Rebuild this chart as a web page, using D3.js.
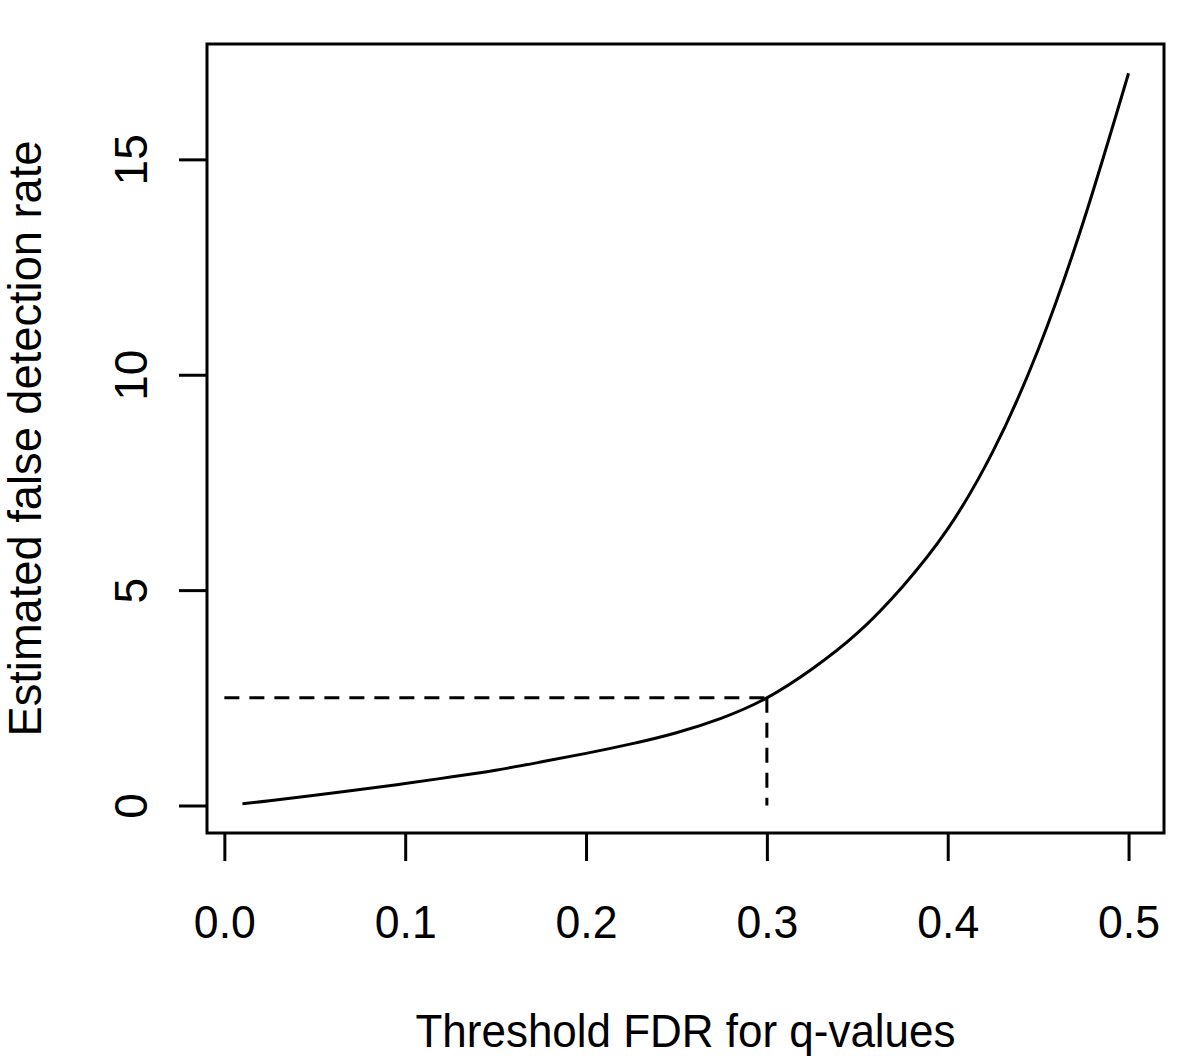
<!DOCTYPE html>
<html>
<head>
<meta charset="utf-8">
<script src="https://cdn.jsdelivr.net/npm/d3@7"></script>
<style>
  html, body { margin: 0; padding: 0; background: #fff; }
  text { font-family: "Liberation Sans", Arial, sans-serif; fill: #000; }
</style>
</head>
<body>
<div id="chart"></div>
<script>
// values
var thresholds = [0.01, 0.025, 0.05, 0.075, 0.10, 0.125, 0.15, 0.175, 0.20, 0.225, 0.25, 0.275,
                  0.30, 0.325, 0.35, 0.375, 0.40, 0.425, 0.45, 0.475, 0.50];
var estFDR     = [0.04, 0.11, 0.24, 0.37, 0.51, 0.66, 0.82, 1.01, 1.21, 1.43, 1.69, 2.03,
                  2.50, 3.17, 4.00, 5.08, 6.42, 8.22, 10.58, 13.55, 17.0];
var xTicks = [0.0, 0.1, 0.2, 0.3, 0.4, 0.5];
var yTicks = [0, 5, 10, 15];
var cutX = 0.3;
var cutY = 2.5;

var width = 1200;
var height = 1056;
var box = {left: 207, right: 1164, top: 44, bottom: 833};

var svg = d3.select('#chart').append('svg')
    .attr('width', width)
    .attr('height', height);

// R-style 4% padding around data range
var xr = d3.extent(thresholds), yr = d3.extent(estFDR);
var xpad = (xr[1] - xr[0]) * 0.04, ypad = (yr[1] - yr[0]) * 0.04;

var x = d3.scaleLinear()
    .domain([xr[0] - xpad, xr[1] + xpad])
    .range([box.left, box.right]);

var y = d3.scaleLinear()
    .domain([yr[0] - ypad, yr[1] + ypad])
    .range([box.bottom, box.top]);

var pts = thresholds.map(function(d, i) { return [d, estFDR[i]]; });

var line = d3.line()
    .x(function(d) { return x(d[0]); })
    .y(function(d) { return y(d[1]); })
    .curve(d3.curveNatural);

svg.append('path')
    .datum(pts)
    .attr('d', line)
    .attr('fill', 'none')
    .attr('stroke', '#000')
    .attr('stroke-width', 3);

// dashed cut-off guides
svg.append('line')
    .attr('x1', x(0)).attr('x2', x(cutX))
    .attr('y1', y(cutY)).attr('y2', y(cutY))
    .attr('stroke', '#000').attr('stroke-width', 3)
    .attr('stroke-dasharray', '15,10');

svg.append('line')
    .attr('x1', x(cutX)).attr('x2', x(cutX))
    .attr('y1', y(cutY)).attr('y2', y(0))
    .attr('stroke', '#000').attr('stroke-width', 3)
    .attr('stroke-dasharray', '15,10');

// box
svg.append('rect')
    .attr('x', box.left).attr('y', box.top)
    .attr('width', box.right - box.left)
    .attr('height', box.bottom - box.top)
    .attr('fill', 'none')
    .attr('stroke', '#000')
    .attr('stroke-width', 3);

// x axis
var xAxis = d3.axisBottom(x)
    .tickValues(xTicks)
    .tickSize(28)
    .tickSizeOuter(0)
    .tickFormat(d3.format('.1f'));

var gx = svg.append('g')
    .attr('transform', 'translate(0,' + box.bottom + ')')
    .call(xAxis);
gx.select('.domain').remove();
gx.selectAll('.tick line').attr('stroke', '#000').attr('stroke-width', 3);
gx.selectAll('.tick text')
    .attr('dy', null)
    .attr('y', 105)
    .attr('textLength', 62)
    .attr('lengthAdjust', 'spacingAndGlyphs')
    .style('font-size', '46px');

// y axis
var yAxis = d3.axisLeft(y)
    .tickValues(yTicks)
    .tickSize(28)
    .tickSizeOuter(0)
    .tickFormat(d3.format('d'));

var gy = svg.append('g')
    .attr('transform', 'translate(' + box.left + ',0)')
    .call(yAxis);
gy.select('.domain').remove();
gy.selectAll('.tick line').attr('stroke', '#000').attr('stroke-width', 3);
gy.selectAll('.tick text')
    .attr('x', null).attr('dy', null)
    .attr('transform', 'translate(-60,0) rotate(-90)')
    .attr('text-anchor', 'middle')
    .style('font-size', '46px');

// axis titles
svg.append('text')
    .attr('x', (box.left + box.right) / 2)
    .attr('y', 1047)
    .attr('text-anchor', 'middle')
    .attr('textLength', 540)
    .attr('lengthAdjust', 'spacingAndGlyphs')
    .style('font-size', '46px')
    .text('Threshold FDR for q-values');

svg.append('text')
    .attr('transform', 'translate(41,' + ((box.top + box.bottom) / 2) + ') rotate(-90)')
    .attr('text-anchor', 'middle')
    .attr('textLength', 596)
    .attr('lengthAdjust', 'spacingAndGlyphs')
    .style('font-size', '46px')
    .text('Estimated false detection rate');
</script>
</body>
</html>
